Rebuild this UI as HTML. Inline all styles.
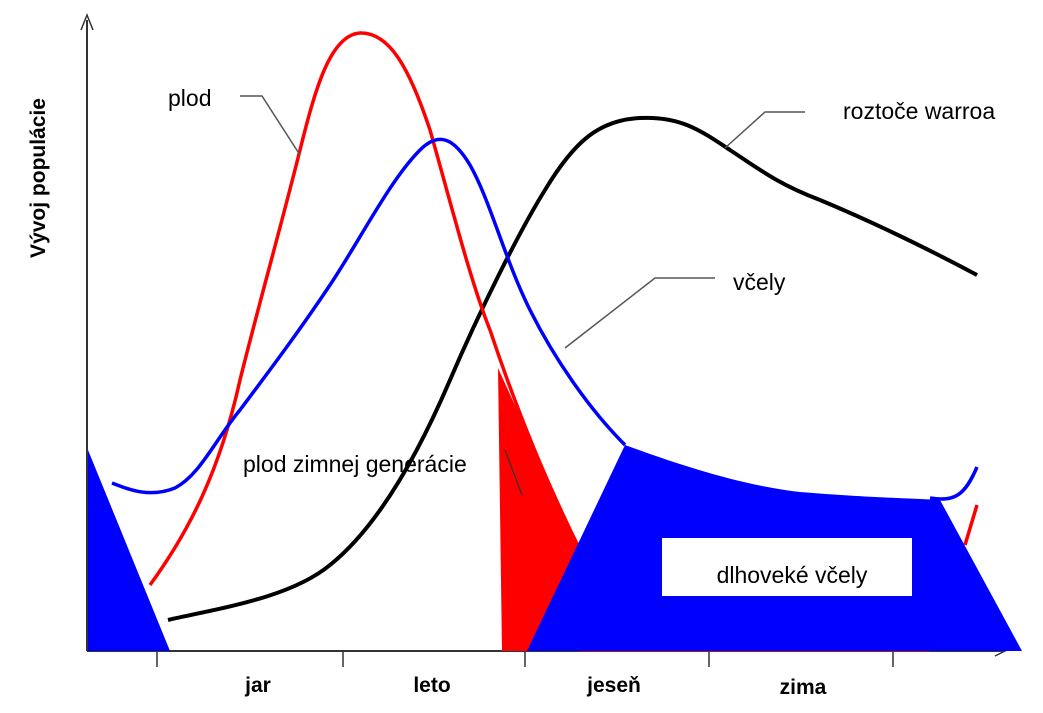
<!DOCTYPE html>
<html><head><meta charset="utf-8"><style>body{margin:0;background:#fff}svg{display:block}</style></head><body>
<svg width="1043" height="713" xmlns="http://www.w3.org/2000/svg" font-family="Liberation Sans, sans-serif">
<rect width="1043" height="713" fill="#fff"/>
<line x1="87" y1="20" x2="87" y2="651" stroke="#333" stroke-width="2"/>
<path d="M81,30 L87,15 L93,30" fill="none" stroke="#333" stroke-width="1.5"/>
<line x1="87" y1="651" x2="1003" y2="651" stroke="#333" stroke-width="2"/>
<path d="M995,646 L1005,651 L995,656" fill="none" stroke="#333" stroke-width="1.5"/>
<g stroke="#333" stroke-width="1.5">
<line x1="157" y1="651" x2="157" y2="667"/><line x1="343" y1="651" x2="343" y2="667"/>
<line x1="525" y1="651" x2="525" y2="667"/><line x1="709" y1="651" x2="709" y2="667"/>
<line x1="893" y1="651" x2="893" y2="667"/></g>
<path d="M168,620 C220,608 290,598 330,565 C380,525 420,450 450,380 C480,310 520,230 545,190 C575,140 600,120 640,118 C680,116 700,130 730,150 C760,170 780,185 820,200 C880,225 930,250 977,275" fill="none" stroke="#000" stroke-width="4"/>
<path d="M150,585 C190,530 220,470 240,380 C260,300 280,230 300,150 C315,90 330,35 360,33 C390,32 410,70 430,130 C450,200 470,280 490,330 C510,390 540,470 580,550" fill="none" stroke="#f00" stroke-width="3.5"/>
<path d="M965,545 L977,505" stroke="#f00" stroke-width="3.5"/>
<path d="M580,650 L930,650" stroke="#f00" stroke-width="3"/>
<polygon points="498,368 502,651 580,651 580,548" fill="#f00"/>
<path d="M112,483 C130,490 150,498 175,488 C200,475 215,440 240,410 C270,370 300,330 330,285 C360,240 390,180 420,150 C440,130 455,140 470,165 C490,200 505,260 530,310 C555,360 590,410 625,445" fill="none" stroke="#00f" stroke-width="3.5"/>
<path d="M930,498 C955,502 965,495 977,467" fill="none" stroke="#00f" stroke-width="3.5"/>
<polygon points="88,450 170,651 88,651" fill="#00f"/>
<path d="M527,651 L625,445 C680,465 740,485 800,492 C860,497 900,498 940,500 L1022,651 Z" fill="#00f"/>
<rect x="662" y="538" width="250" height="58" fill="#fff"/>
<text x="792" y="583" font-size="23" text-anchor="middle" fill="#000">dlhoveké včely</text>
<text x="168" y="106" font-size="23">plod</text>
<path d="M240,96 L262,96 L300,155" fill="none" stroke="#555" stroke-width="1.5"/>
<text x="843" y="119" font-size="23">roztoče warroa</text>
<path d="M805,112 L765,112 L725,148" fill="none" stroke="#555" stroke-width="1.5"/>
<text x="733" y="290" font-size="23">včely</text>
<path d="M715,278 L655,278 L565,348" fill="none" stroke="#555" stroke-width="1.5"/>
<text x="243" y="472" font-size="23">plod zimnej generácie</text>
<path d="M505,450 L522,495" stroke="#333" stroke-width="1.2"/>
<text transform="translate(45,178) rotate(-90)" font-size="21" font-weight="bold" text-anchor="middle">Vývoj populácie</text>
<g font-size="21" font-weight="bold" text-anchor="middle">
<text x="258" y="692">jar</text><text x="432" y="692">leto</text>
<text x="614" y="692">jeseň</text><text x="803" y="694">zima</text></g>
</svg>
</body></html>
